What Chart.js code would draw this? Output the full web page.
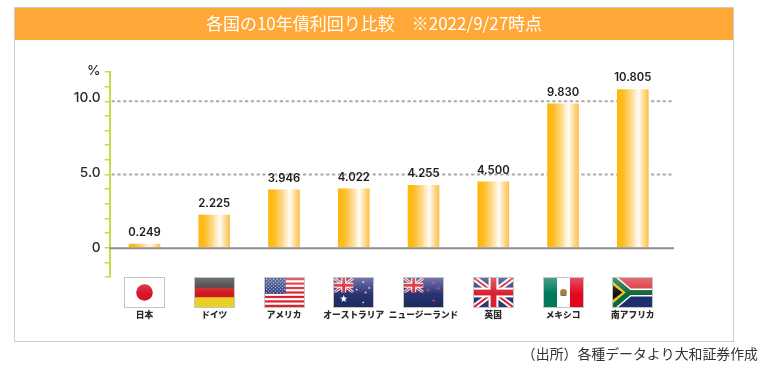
<!DOCTYPE html>
<html lang="ja"><head><meta charset="utf-8">
<style>html,body{margin:0;padding:0;background:#fff}#w{width:769px;height:371px;position:relative}canvas{display:block}</style>
<script src="https://cdn.jsdelivr.net/npm/chart.js@4"></script>
</head><body><div id="w"><canvas id="c" width="769" height="371"></canvas></div>
<script>
const categories=["日本","ドイツ","アメリカ","オーストラリア","ニュージーランド","英国","メキシコ","南アフリカ"];
const yields=[0.249,2.225,3.946,4.022,4.255,4.5,9.83,10.805];
const valueLabels=["0.249","2.225","3.946","4.022","4.255","4.500","9.830","10.805"];
const flagCodes=["jp","de","us","au","nz","gb","mx","za"];
const yTickLabels={0:["0"],5:["5.0",""],10:["10.0","",""],12:["%",""]};
const dashedLines=[5,10];
const titleText="各国の10年債利回り比較　※2022/9/27時点";
const sourceText="（出所）各種データより大和証券作成";
const JP='"Noto Sans CJK JP","Noto Sans",sans-serif';

function star(c,x,y,r,col){c.fillStyle=col;c.beginPath();for(let i=0;i<10;i++){const a=-Math.PI/2+i*Math.PI/5,q=i%2?r*.42:r;c.lineTo(x+q*Math.cos(a),y+q*Math.sin(a));}c.closePath();c.fill();}
function jack(c,x,y,w,h){c.save();c.beginPath();c.rect(x,y,w,h);c.clip();c.fillStyle="#2a3a78";c.fillRect(x,y,w,h);
 const d=(col,lw)=>{c.strokeStyle=col;c.lineWidth=lw;c.beginPath();c.moveTo(x,y);c.lineTo(x+w,y+h);c.moveTo(x+w,y);c.lineTo(x,y+h);c.stroke();};
 d("#fff",h*.2);d("#d8202f",h*.07);
 c.fillStyle="#fff";c.fillRect(x+w/2-h*.17,y,h*.34,h);c.fillRect(x,y+h*.33,w,h*.34);
 c.fillStyle="#d8202f";c.fillRect(x+w/2-h*.1,y,h*.2,h);c.fillRect(x,y+h*.4,w,h*.2);c.restore();}
const painters={
 jp(c,x,y,w,h){c.fillStyle="#fff";c.fillRect(x,y,w,h);c.fillStyle="#d5152a";c.beginPath();c.arc(x+w/2,y+h/2,8.3,0,7);c.fill();},
 de(c,x,y,w,h){["#3a3a3a","#cf1820","#e9d223"].forEach((k,i)=>{c.fillStyle=k;c.fillRect(x,y+i*h/3,w,h/3+.5);});},
 us(c,x,y,w,h){c.fillStyle="#fff";c.fillRect(x,y,w,h);c.fillStyle="#dc2230";for(let i=0;i<13;i+=2)c.fillRect(x,y+i*h/13,w,h/13);
  c.fillStyle="#2b3a80";c.fillRect(x,y,w*.53,h*.54);c.fillStyle="#d9dcec";for(let r=0;r<9;r++)for(let k=0;k<11;k++)if((r+k)%2==0)c.fillRect(x+1+k*1.78,y+.8+r*1.68,1,1);},
 au(c,x,y,w,h){const g=c.createLinearGradient(0,y,0,y+h);g.addColorStop(0,"#3a3f90");g.addColorStop(1,"#1c2a5c");c.fillStyle=g;c.fillRect(x,y,w,h);jack(c,x,y,w/2,h/2);
  star(c,x+w*.25,y+h*.72,3.8,"#fff");[[.75,.14],[.75,.84],[.58,.4],[.9,.34],[.81,.5]].forEach(p=>star(c,x+w*p[0],y+h*p[1],1.4,"#e0e0f0"));},
 nz(c,x,y,w,h){const g=c.createLinearGradient(0,y,0,y+h);g.addColorStop(0,"#3a3f90");g.addColorStop(1,"#1c2a5c");c.fillStyle=g;c.fillRect(x,y,w,h);jack(c,x,y,w/2,h/2);
  [[.76,.17],[.76,.78],[.62,.42],[.88,.36]].forEach(p=>star(c,x+w*p[0],y+h*p[1],2,"#c8384e"));},
 gb(c,x,y,w,h){jack(c,x,y,w,h);},
 mx(c,x,y,w,h){c.fillStyle="#007a5a";c.fillRect(x,y,w/3,h);c.fillStyle="#fff";c.fillRect(x+w/3,y,w/3,h);c.fillStyle="#e2071f";c.fillRect(x+2*w/3,y,w/3,h);
  c.fillStyle="#a8783c";c.beginPath();c.arc(x+w/2,y+h/2,3.4,0,7);c.fill();c.fillStyle="#5a8a50";c.fillRect(x+w/2-3,y+h/2+2,6,1.4);},
 za(c,x,y,w,h){c.fillStyle="#d8343c";c.fillRect(x,y,w,h/2);c.fillStyle="#1e2f70";c.fillRect(x,y+h/2,w,h/2);
  c.strokeStyle="#fff";c.lineWidth=h*.28;const Y=()=>{c.beginPath();c.moveTo(x-2,y-1);c.lineTo(x+w*.42,y+h/2);c.lineTo(x+w+1,y+h/2);c.moveTo(x-2,y+h+1);c.lineTo(x+w*.42,y+h/2);c.stroke();};Y();
  c.strokeStyle="#0e6a38";c.lineWidth=h*.18;Y();
  c.fillStyle="#e8c020";c.beginPath();c.moveTo(x,y+h*.14);c.lineTo(x+w*.32,y+h/2);c.lineTo(x,y+h*.86);c.fill();
  c.fillStyle="#111";c.beginPath();c.moveTo(x,y+h*.25);c.lineTo(x+w*.24,y+h/2);c.lineTo(x,y+h*.75);c.fill();}
};
const chromePlugin={id:"chrome",
 beforeDraw(ch){const c=ch.ctx;c.save();c.fillStyle="#fff";c.fillRect(0,0,769,371);c.strokeStyle="#cdcdcd";c.lineWidth=1;c.strokeRect(14.5,7.5,719,334);c.fillStyle="#ffa837";c.fillRect(15,8,718,32);
  c.fillStyle="#333";c.font='400 13.9px '+JP;c.textAlign="right";c.textBaseline="middle";c.fillText(sourceText,758,354);c.restore();},
 beforeDatasetsDraw(ch){const c=ch.ctx,a=ch.chartArea,s=ch.scales.y;c.save();c.strokeStyle="#aaaaaa";c.lineWidth=2;c.setLineDash([3.2,2.6]);dashedLines.forEach(v=>{const p=s.getPixelForValue(v);c.beginPath();c.moveTo(a.left+2,p);c.lineTo(a.right+6.3,p);c.stroke();});c.restore();},
 afterDatasetsDraw(ch){const c=ch.ctx,a=ch.chartArea,s=ch.scales.y,xs=ch.scales.x;c.save();
  const p=s.getPixelForValue(0)+.5;c.strokeStyle="#8c8c8c";c.lineWidth=2;c.beginPath();c.moveTo(a.left,p);c.lineTo(a.right+6.3,p);c.stroke();
  c.fillStyle="#1c1c1c";c.font='600 11.3px Inter,'+JP;c.textAlign="center";c.textBaseline="middle";
  ch.getDatasetMeta(0).data.forEach((b,i)=>c.fillText(valueLabels[i],b.x,b.y-11.5));
  flagCodes.forEach((f,i)=>{const w=39,h=29,x=Math.round(xs.getPixelForValue(i)-w/2),y=a.bottom+1;
   c.save();c.beginPath();c.rect(x,y,w,h);c.clip();painters[f](c,x,y,w,h);
   const g=c.createLinearGradient(0,y,0,y+h*.55);g.addColorStop(0,"rgba(255,255,255,.28)");g.addColorStop(1,"rgba(255,255,255,0)");c.fillStyle=g;c.fillRect(x,y,w,h*.55);c.restore();
   c.strokeStyle="#c4c4c4";c.lineWidth=1;c.strokeRect(x-.5,y-.5,w+1,h+1);});
  c.restore();}
};
new Chart(document.getElementById("c"),{type:"bar",
 data:{labels:categories,datasets:[{data:yields,barThickness:31,borderWidth:0,
  backgroundColor(ctx){const ch=ctx.chart;if(!ch.chartArea||!ch.scales.x)return"#fdb913";const m=ch.scales.x.getPixelForValue(ctx.dataIndex),g=ch.ctx.createLinearGradient(m-15.5,0,m+15.5,0);
   g.addColorStop(0,"#fdb70d");g.addColorStop(.18,"#fdbc20");g.addColorStop(.45,"#fed98a");g.addColorStop(.68,"#fffdf8");g.addColorStop(.85,"#fedb95");g.addColorStop(1,"#fdc04e");return g;}}]},
 plugins:[chromePlugin],
 options:{responsive:false,animation:false,events:[],
  layout:{padding:{left:0,right:21,top:0,bottom:0}},
  plugins:{legend:{display:false},tooltip:{enabled:false},
   title:{display:true,text:titleText,color:"#fff",font:{family:JP,size:17,weight:"400",lineHeight:1.2},padding:{top:13.8,bottom:37.8}},
   subtitle:{display:false}},
  scales:{
   x:{border:{display:false},grid:{display:false},afterFit(a){a.height=94;},
    ticks:{padding:24,autoSkip:false,maxRotation:0,color:"#2a2a2a",font:{family:JP,size:8.7,weight:"900"}}},
   y:{min:-2,max:12,afterFit(a){a.width=109.6;},border:{color:"#c5de45",width:2},
    grid:{drawOnChartArea:false,color:"#c5de45",tickLength:5,lineWidth:1.5},
    ticks:{stepSize:1,autoSkip:false,padding:4,color:"#2a2a2a",font:{family:"Inter,"+JP,size:13.7,weight:"500",lineHeight:"3px"},callback(v){return yTickLabels[v]??"";}}},
   r:{position:"right",display:true,min:-2,max:12,afterFit(a){a.width=80.3;},border:{display:false},grid:{display:false},ticks:{display:false}}
  }}});
</script></body></html>
